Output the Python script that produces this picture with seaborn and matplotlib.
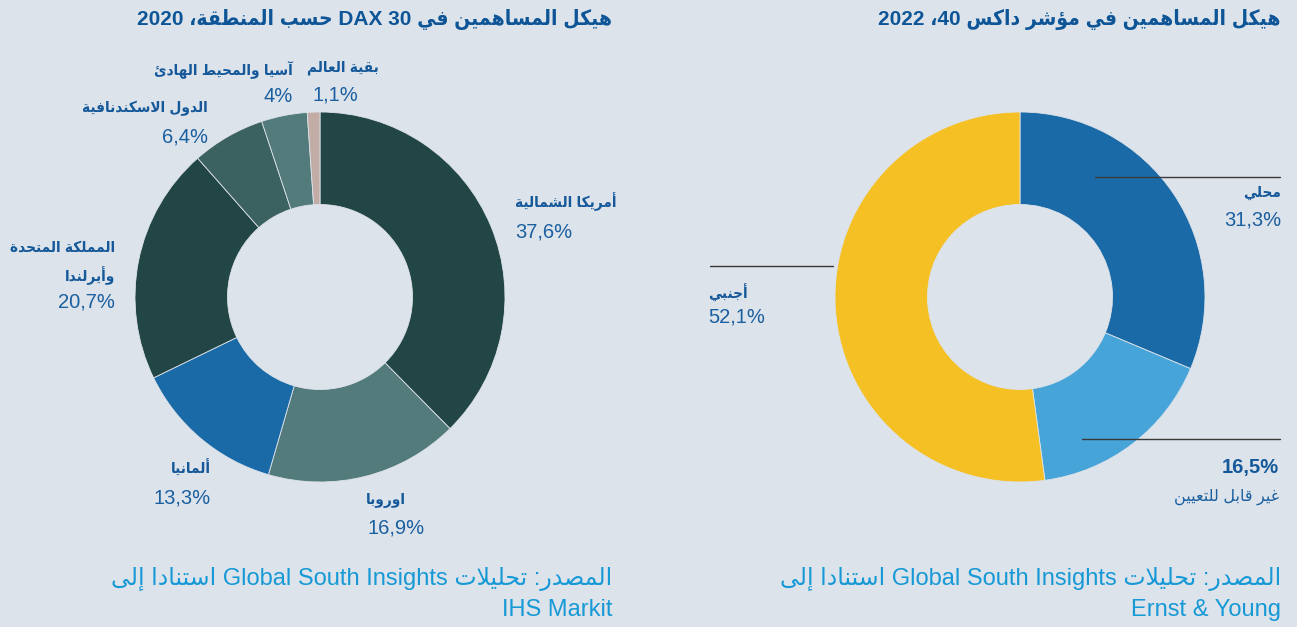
import matplotlib
matplotlib.use("Agg")
import matplotlib.pyplot as plt
import seaborn as sns
from matplotlib.lines import Line2D

# ---------------- data ----------------
left_title_runs = ["هيكل المساهمين في ", "DAX 30", " حسب المنطقة، ", "2020"]
right_title_runs = ["هيكل المساهمين في مؤشر داكس ", "40", "، ", "2022"]

region_labels = ["أمريكا الشمالية", "اوروبا", "ألمانيا", "المملكة المتحدة\nوأيرلندا",
                 "الدول الاسكندنافية", "آسيا والمحيط الهادئ", "بقية العالم"]
region_values = [37.6, 16.9, 13.3, 20.7, 6.4, 4.0, 1.1]

owner_labels = ["محلي", "غير قابل للتعيين", "أجنبي"]
owner_values = [31.3, 16.5, 52.1]

source_runs = ["المصدر: تحليلات ", "Global South Insights", " استنادا إلى"]
left_source_2 = "IHS Markit"
right_source_2 = "Ernst & Young"

# ---------------- styles ----------------
W, H = 1297, 627
BG = "#dde3ea"
TITLE_C = "#0d5597"
LABEL_C = "#15599a"
PCT_C = "#1a5fa0"
SRC_C = "#1799d6"
region_colors = ["#224646", "#537b7b", "#1b6aa8", "#224646", "#3b6160", "#537b7b", "#c2aca6"]
owner_colors = ["#1b6aa8", "#47a4d8", "#f5c024"]

# ---------------- minimal Arabic shaping ----------------
_FORMS = {
    '\u0621': (0xFE80, 1), '\u0622': (0xFE81, 2), '\u0623': (0xFE83, 2), '\u0624': (0xFE85, 2),
    '\u0625': (0xFE87, 2), '\u0626': (0xFE89, 4), '\u0627': (0xFE8D, 2), '\u0628': (0xFE8F, 4),
    '\u0629': (0xFE93, 2), '\u062A': (0xFE95, 4), '\u062B': (0xFE99, 4), '\u062C': (0xFE9D, 4),
    '\u062D': (0xFEA1, 4), '\u062E': (0xFEA5, 4), '\u062F': (0xFEA9, 2), '\u0630': (0xFEAB, 2),
    '\u0631': (0xFEAD, 2), '\u0632': (0xFEAF, 2), '\u0633': (0xFEB1, 4), '\u0634': (0xFEB5, 4),
    '\u0635': (0xFEB9, 4), '\u0636': (0xFEBD, 4), '\u0637': (0xFEC1, 4), '\u0638': (0xFEC5, 4),
    '\u0639': (0xFEC9, 4), '\u063A': (0xFECD, 4), '\u0641': (0xFED1, 4), '\u0642': (0xFED5, 4),
    '\u0643': (0xFED9, 4), '\u0644': (0xFEDD, 4), '\u0645': (0xFEE1, 4), '\u0646': (0xFEE5, 4),
    '\u0647': (0xFEE9, 4), '\u0648': (0xFEED, 2), '\u0649': (0xFEEF, 2), '\u064A': (0xFEF1, 4),
}
_LAM_ALEF = {'\u0622': 0xFEF5, '\u0623': 0xFEF7, '\u0625': 0xFEF9, '\u0627': 0xFEFB}


def shape(s):
    units = []
    i = 0
    while i < len(s):
        c = s[i]
        if c == '\u0644' and i + 1 < len(s) and s[i + 1] in _LAM_ALEF:
            units.append((_LAM_ALEF[s[i + 1]], 2))
            i += 2
            continue
        units.append(_FORMS[c] if c in _FORMS else (c, 0))
        i += 1
    out = []
    for k, (base, n) in enumerate(units):
        if n == 0:
            out.append(base)
            continue
        prev_n = units[k - 1][1] if k > 0 else 0
        next_n = units[k + 1][1] if k + 1 < len(units) else 0
        jp = prev_n == 4 and n >= 2
        jn = n == 4 and next_n >= 2
        if n == 1:
            off = 0
        elif n == 2:
            off = 1 if jp else 0
        else:
            off = 3 if (jp and jn) else 1 if jp else 2 if jn else 0
        out.append(chr(base + off))
    return ''.join(out)


def is_ar(s):
    return any('\u0600' <= ch <= '\u06FF' for ch in s)


def rtl(*runs):
    parts = [shape(r)[::-1] if is_ar(r) else r for r in runs]
    return ''.join(reversed(parts))


def pct(v):
    return f"{v:g}".replace('.', ',') + '%'


# ---------------- figure ----------------
sns.set_theme(style="white", rc={"figure.facecolor": BG, "axes.facecolor": BG})
plt.rcParams['font.family'] = ['Liberation Sans', 'DejaVu Sans']

fig = plt.figure(figsize=(W / 100, H / 100), dpi=100)
fig.patch.set_facecolor(BG)


def fx(x):
    return x / W


def fy(y):
    return 1 - y / H


def put(x, y, s, size, weight="normal", color=LABEL_C, ha="left", stretch="normal"):
    fig.text(fx(x), fy(y), s, fontsize=size, fontweight=weight, color=color,
             ha=ha, va="center", fontstretch=stretch)


def ring(cx, cy, r, values, colors):
    ax = fig.add_axes([fx(cx - r), fy(cy + r), 2 * r / W, 2 * r / H])
    ax.pie(values, colors=colors, startangle=90, counterclock=False, radius=1,
           wedgeprops=dict(width=0.5, edgecolor=BG, linewidth=0.6))
    ax.set_xlim(-1, 1)
    ax.set_ylim(-1, 1)
    ax.set_axis_off()
    return ax


ring(320, 297, 185, region_values, region_colors)
ring(1020, 297, 185, owner_values, owner_colors)

CS = "condensed"
# titles
put(612, 20, rtl(*left_title_runs), 15, "bold", TITLE_C, "right", CS)
put(1281, 20, rtl(*right_title_runs), 15, "bold", TITLE_C, "right", CS)

# left labels: (x, y_first_line, ha, pct x, pct y, pct ha)
LS, PS = 11, 14.5
layout_left = [
    (515, 202, "left", 515, 232, "left"),
    (366, 500, "left", 368, 528, "left"),
    (211, 468, "right", 211, 498, "right"),
    (115, 248, "right", 115, 302, "right"),
    (208, 108, "right", 208, 137, "right"),
    (293, 70, "right", 293, 97, "right"),
    (379, 68, "right", 312, 95, "left"),
]
for lab, val, (x, y, ha, px, py, pha) in zip(region_labels, region_values, layout_left):
    for j, line in enumerate(lab.split("\n")):
        put(x, y + 28 * j, rtl(line), LS, "bold", LABEL_C, ha, CS)
    put(px, py, pct(val), PS, "normal", PCT_C, pha)

# right labels
put(1281, 193, rtl(owner_labels[0]), LS, "bold", LABEL_C, "right", CS)
put(1281, 220, pct(owner_values[0]), PS, "normal", PCT_C, "right")
put(1279, 468, pct(owner_values[1]), PS, "bold", LABEL_C, "right")
put(1279, 497, rtl(owner_labels[1]), 11.5, "normal", PCT_C, "right")
put(708, 293, rtl(owner_labels[2]), LS, "bold", LABEL_C, "left", CS)
put(708, 317, pct(owner_values[2]), PS, "normal", PCT_C, "left")

# leader lines
for (x0, x1, y) in [(1095, 1280, 177), (710, 833, 266), (1082, 1280, 439)]:
    fig.add_artist(Line2D([fx(x0), fx(x1)], [fy(y), fy(y)], color="#3a3a3a", lw=1.0))

# sources
put(612, 579, rtl(*source_runs), 17, "normal", SRC_C, "right")
put(612, 610, left_source_2, 17, "normal", SRC_C, "right")
put(1281, 579, rtl(*source_runs), 17, "normal", SRC_C, "right")
put(1281, 610, right_source_2, 17, "normal", SRC_C, "right")

fig.savefig("out.png", dpi=100, facecolor=BG)
